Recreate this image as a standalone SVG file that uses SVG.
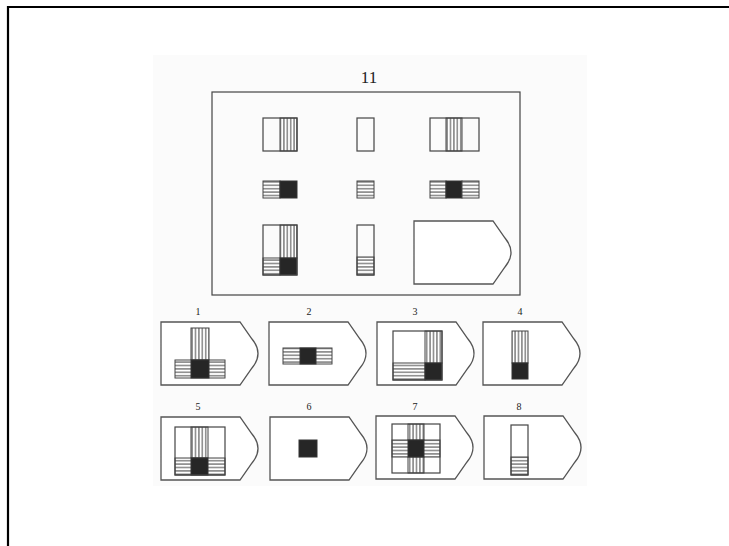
<svg xmlns="http://www.w3.org/2000/svg" width="729" height="546" viewBox="0 0 729 546">
<defs>
<style>
.b{fill:none;stroke:#444;stroke-width:1.2}
.v{fill:url(#vh);stroke:#444;stroke-width:1}
.h{fill:url(#hh);stroke:#444;stroke-width:1}
.k{fill:#262626;stroke:#333;stroke-width:1}
.p{fill:#fff;stroke:#555;stroke-width:1.3}
.t{font-family:"Liberation Serif","DejaVu Serif",serif;fill:#222;text-anchor:middle}
</style>
<pattern id="vh" patternUnits="userSpaceOnUse" width="3.4" height="10"><rect width="3.4" height="10" fill="#fff"/><line x1="1.7" y1="0" x2="1.7" y2="10" stroke="#444" stroke-width="1"/></pattern>
<pattern id="hh" patternUnits="userSpaceOnUse" width="10" height="3.4"><rect width="10" height="3.4" fill="#fff"/><line x1="0" y1="1.7" x2="10" y2="1.7" stroke="#444" stroke-width="1"/></pattern>
<path id="pent" d="M0,0 H79 L91,17 Q103,31.5 91,46 L79,63 H0 Z"/>
</defs>
<rect x="0" y="0" width="729" height="546" fill="#fff"/>
<rect x="153" y="55" width="434" height="431" fill="#fbfbfb"/>
<path d="M8,546 V7 H729" fill="none" stroke="#000" stroke-width="2.2"/>

<g id="matrix">
<text class="t" x="369" y="83" font-size="17">11</text>
<rect class="b" x="212" y="92" width="308" height="203" stroke-width="1.5"/>
<g id="r1c1"><rect class="v" x="280" y="118" width="17" height="33"/><rect class="b" x="263" y="118" width="34" height="33"/></g>
<g id="r1c2"><rect class="b" x="357" y="118" width="17" height="33"/></g>
<g id="r1c3"><rect class="v" x="446" y="118" width="16" height="33"/><rect class="b" x="430" y="118" width="49" height="33"/></g>
<g id="r2c1"><rect class="h" x="263" y="181" width="17" height="17"/><rect class="k" x="280" y="181" width="17" height="17"/></g>
<g id="r2c2"><rect class="h" x="357" y="181" width="17" height="17"/></g>
<g id="r2c3"><rect class="h" x="430" y="181" width="16" height="17"/><rect class="k" x="446" y="181" width="16" height="17"/><rect class="h" x="462" y="181" width="17" height="17"/></g>
<g id="r3c1"><rect class="v" x="280" y="225" width="17" height="33"/><rect class="h" x="263" y="258" width="17" height="17"/><rect class="k" x="280" y="258" width="17" height="17"/><rect class="b" x="263" y="225" width="34" height="50"/></g>
<g id="r3c2"><rect class="h" x="357" y="257" width="17" height="18"/><rect class="b" x="357" y="225" width="17" height="50"/></g>
<g id="answer"><use href="#pent" class="p" x="414" y="221"/></g>
</g>

<g id="opt1"><text class="t" x="198" y="315" font-size="10">1</text><use href="#pent" class="p" x="161" y="322"/>
<rect class="v" x="191" y="328" width="18" height="32"/><rect class="h" x="175" y="360" width="50" height="18"/><rect class="k" x="191" y="360" width="18" height="18"/></g>
<g id="opt2"><text class="t" x="309" y="315" font-size="10">2</text><use href="#pent" class="p" x="269" y="322"/>
<rect class="h" x="283" y="348" width="49" height="16"/><rect class="k" x="300" y="348" width="16" height="16"/></g>
<g id="opt3"><text class="t" x="415" y="315" font-size="10">3</text><use href="#pent" class="p" x="377" y="322"/>
<rect class="v" x="425" y="331" width="17" height="32"/><rect class="h" x="393" y="363" width="32" height="17"/><rect class="k" x="425" y="363" width="17" height="17"/><rect class="b" x="393" y="331" width="49" height="49"/></g>
<g id="opt4"><text class="t" x="520" y="315" font-size="10">4</text><use href="#pent" class="p" x="483" y="322"/>
<rect class="v" x="512" y="331" width="16" height="32"/><rect class="k" x="512" y="363" width="16" height="16"/></g>

<g id="opt5"><text class="t" x="198" y="410" font-size="10">5</text><use href="#pent" class="p" x="161" y="417"/>
<rect class="v" x="191" y="427" width="17" height="31"/><rect class="h" x="175" y="458" width="50" height="17"/><rect class="k" x="191" y="458" width="17" height="17"/><rect class="b" x="175" y="427" width="50" height="48"/></g>
<g id="opt6"><text class="t" x="309" y="410" font-size="10">6</text><use href="#pent" class="p" x="270" y="417"/>
<rect class="k" x="299" y="440" width="18" height="17"/></g>
<g id="opt7"><text class="t" x="415" y="410" font-size="10">7</text><use href="#pent" class="p" x="376" y="416"/>
<rect class="v" x="408" y="424" width="16" height="49"/><rect class="h" x="392" y="440" width="48" height="17"/><rect class="k" x="408" y="440" width="16" height="17"/><rect class="b" x="392" y="424" width="48" height="49"/></g>
<g id="opt8"><text class="t" x="519" y="410" font-size="10">8</text><use href="#pent" class="p" x="484" y="416"/>
<rect class="h" x="511" y="457" width="17" height="18"/><rect class="b" x="511" y="425" width="17" height="50"/></g>
</svg>
